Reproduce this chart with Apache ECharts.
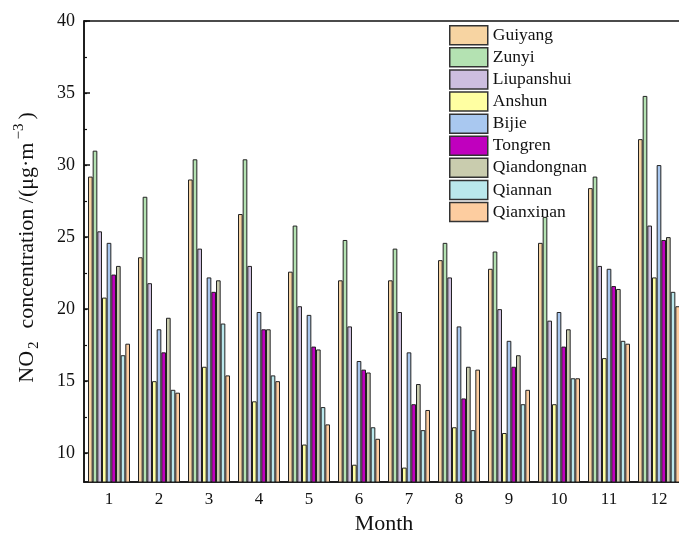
<!DOCTYPE html>
<html>
<head>
<meta charset="utf-8">
<script src="https://cdn.jsdelivr.net/npm/echarts@6/dist/echarts.min.js"></script>
<style>
  html, body { margin: 0; padding: 0; background: #fff; }
  #chart { width: 679px; height: 535px; }
</style>
</head>
<body>
<div id="chart"></div>
<script>
// months on the x axis
const months = ["1", "2", "3", "4", "5", "6", "7", "8", "9", "10", "11", "12"];

// NO2 monthly means per city
const guiyang     = [29.2, 23.6, 29.0, 26.6, 22.6, 22.0, 22.0, 23.4, 22.8, 24.6, 28.4, 31.8];
const zunyi       = [31.0, 27.8, 30.4, 30.4, 25.8, 24.8, 24.2, 24.6, 24.0, 26.4, 29.2, 34.8];
const liupanshui  = [25.4, 21.8, 24.2, 23.0, 20.2, 18.8, 19.8, 22.2, 20.0, 19.2, 23.0, 25.8];
const anshun      = [20.8, 15.0, 16.0, 13.6, 10.6, 9.2, 9.0, 11.8, 11.4, 13.4, 16.6, 22.2];
const bijie       = [24.6, 18.6, 22.2, 19.8, 19.6, 16.4, 17.0, 18.8, 17.8, 19.8, 22.8, 30.0];
const tongren     = [22.4, 17.0, 21.2, 18.6, 17.4, 15.8, 13.4, 13.8, 16.0, 17.4, 21.6, 24.8];
const qiandongnan = [23.0, 19.4, 22.0, 18.6, 17.2, 15.6, 14.8, 16.0, 16.8, 18.6, 21.4, 25.0];
const qiannan     = [16.8, 14.4, 19.0, 15.4, 13.2, 11.8, 11.6, 11.6, 13.4, 15.2, 17.8, 21.2];
const qianxinan   = [17.6, 14.2, 15.4, 15.0, 12.0, 11.0, 13.0, 15.8, 14.4, 15.2, 17.6, 20.2];

// y tick values
const yLabelTicks = [10, 15, 20, 25, 30, 35, 40];
const yMinorTicks = [10, 12.5, 15, 17.5, 20, 22.5, 25, 27.5, 30, 32.5, 35, 37.5, 40];

const FONT = "'Liberation Serif', 'DejaVu Serif', serif";

const seriesDefs = [
  { name: "Guiyang", data: guiyang, color: "#F7D4A2" },
  { name: "Zunyi", data: zunyi, color: "#B4E2B2" },
  { name: "Liupanshui", data: liupanshui, color: "#CDBEDF" },
  { name: "Anshun", data: anshun, color: "#FFFFA2" },
  { name: "Bijie", data: bijie, color: "#A9C8F0" },
  { name: "Tongren", data: tongren, color: "#C000BE" },
  { name: "Qiandongnan", data: qiandongnan, color: "#C9CCAE" },
  { name: "Qiannan", data: qiannan, color: "#BAE8EC" },
  { name: "Qianxinan", data: qianxinan, color: "#FDCDA0" },
];

const chart = echarts.init(document.getElementById("chart"), null, { renderer: "canvas" });

const option = {
  animation: false,
  backgroundColor: "#fff",
  textStyle: { fontFamily: FONT },
  grid: {
    left: 84, top: 21, width: 600, height: 461,
    outerBoundsMode: "none",
    containLabel: false,
    show: true, borderColor: "#111", borderWidth: 1.5,
  },
  legend: {
    orient: "vertical",
    left: 449, top: 25,
    padding: 0,
    itemWidth: 38, itemHeight: 19, itemGap: 1.6,
    icon: "rect",
    itemStyle: { borderColor: "#333", borderWidth: 1.5 },
    textStyle: { fontFamily: FONT, fontSize: 17.5, color: "#111" },
    data: seriesDefs.map((s) => s.name),
  },
  xAxis: {
    type: "category",
    data: months,
    name: "Month",
    nameLocation: "middle",
    nameGap: 31,
    nameTextStyle: { fontFamily: FONT, fontSize: 22, color: "#111" },
    axisLine: { lineStyle: { color: "#111", width: 1.5 } },
    axisTick: { show: true, inside: true, alignWithLabel: true, length: 4, lineStyle: { color: "#111" } },
    axisLabel: { fontFamily: FONT, fontSize: 17, color: "#111", margin: 9 },
  },
  yAxis: [
    {
      type: "value",
      min: 8, max: 40,
      name: "{a|NO}{sub|2}{a|  concentration /(μg·m}{sup|−3}{a|)}",
      nameLocation: "middle",
      nameGap: 42,
      nameTextStyle: {
        padding: [0, 0, 0, 8],
        rich: {
          a: { fontFamily: FONT, fontSize: 22, color: "#111", lineHeight: 30, verticalAlign: "middle" },
          sub: { fontFamily: FONT, fontSize: 15, color: "#111", lineHeight: 30, verticalAlign: "bottom", padding: [0, 2, 0, 2] },
          sup: { fontFamily: FONT, fontSize: 15, color: "#111", lineHeight: 30, verticalAlign: "top", padding: [0, 4, 0, 3] },
        },
      },
      splitLine: { show: false },
      axisLine: { show: true, lineStyle: { color: "#111", width: 1.5 } },
      axisTick: { show: true, inside: true, length: 6, customValues: yLabelTicks, lineStyle: { color: "#111", width: 1.5 } },
      axisLabel: { fontFamily: FONT, fontSize: 18, color: "#111", margin: 9, customValues: yLabelTicks },
    },
    {
      type: "value",
      min: 8, max: 40,
      position: "left",
      splitLine: { show: false },
      axisLine: { show: false },
      axisTick: { show: true, inside: true, length: 3, customValues: yMinorTicks, lineStyle: { color: "#111", width: 1.2 } },
      axisLabel: { show: false },
    },
  ],
  series: seriesDefs.map((s) => ({
    name: s.name,
    type: "bar",
    data: s.data,
    barGap: 0,
    barCategoryGap: "16%",
    itemStyle: { color: s.color, borderColor: "#222", borderWidth: 1 },
  })),
};

chart.setOption(option);
</script>
</body>
</html>
